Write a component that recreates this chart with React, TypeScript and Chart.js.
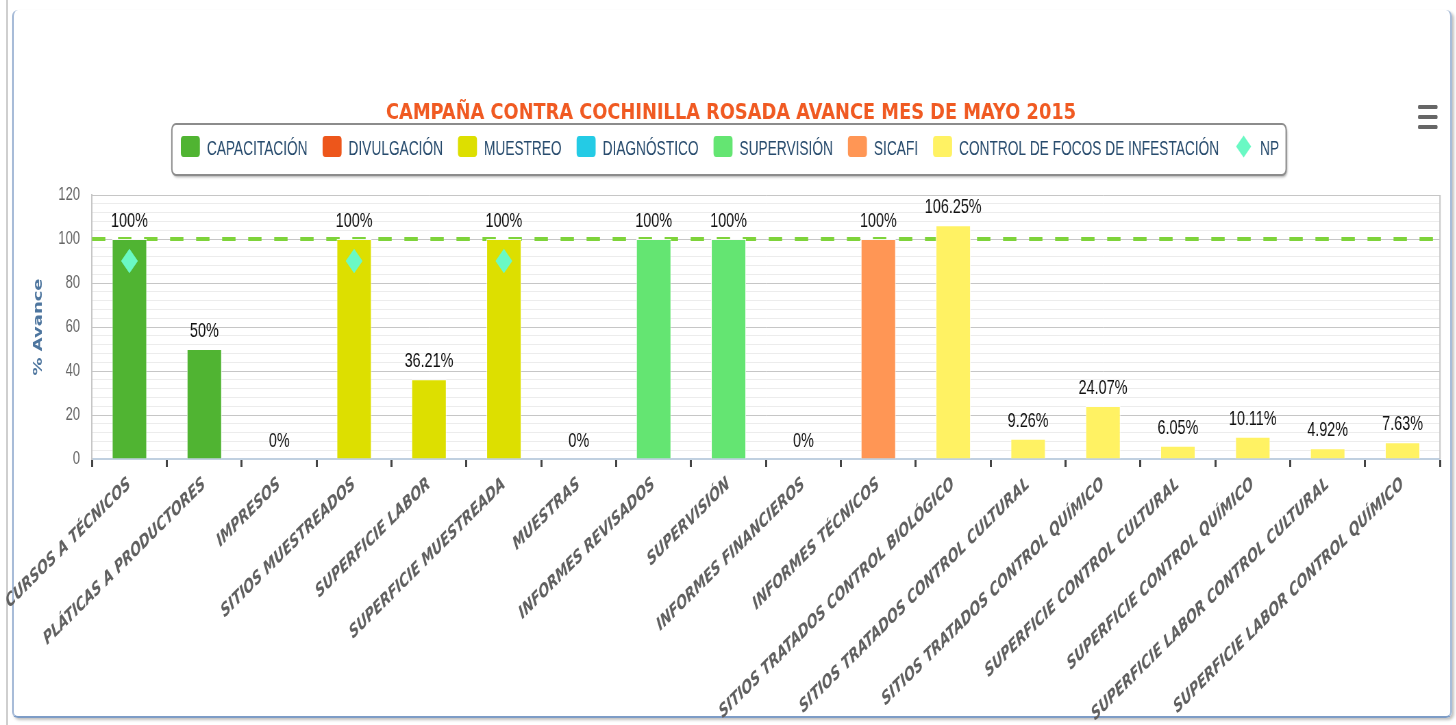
import React, { useEffect, useRef } from 'react';
import { Chart, registerables } from 'chart.js';

Chart.register(...registerables);

// ---- data ----
const chartTitle = 'CAMPAÑA CONTRA COCHINILLA ROSADA AVANCE MES DE MAYO 2015';
const yAxisTitle = '% Avance';

const categories = [
  'CURSOS A TÉCNICOS',
  'PLÁTICAS A PRODUCTORES',
  'IMPRESOS',
  'SITIOS MUESTREADOS',
  'SUPERFICIE LABOR',
  'SUPERFICIE MUESTREADA',
  'MUESTRAS',
  'INFORMES REVISADOS',
  'SUPERVISIÓN',
  'INFORMES FINANCIEROS',
  'INFORMES TÉCNICOS',
  'SITIOS TRATADOS CONTROL BIOLÓGICO',
  'SITIOS TRATADOS CONTROL CULTURAL',
  'SITIOS TRATADOS CONTROL QUÍMICO',
  'SUPERFICIE CONTROL CULTURAL',
  'SUPERFICIE CONTROL QUÍMICO',
  'SUPERFICIE LABOR CONTROL CULTURAL',
  'SUPERFICIE LABOR CONTROL QUÍMICO',
];

const values = [100, 50, 0, 100, 36.21, 100, 0, 100, 100, 0, 100, 106.25, 9.26, 24.07, 6.05, 10.11, 4.92, 7.63];

// which series each category belongs to
const seriesOfCategory = [0, 0, 1, 2, 2, 2, 3, 4, 4, 5, 5, 6, 6, 6, 6, 6, 6, 6];

const seriesNames = [
  'CAPACITACIÓN',
  'DIVULGACIÓN',
  'MUESTREO',
  'DIAGNÓSTICO',
  'SUPERVISIÓN',
  'SICAFI',
  'CONTROL DE FOCOS DE INFESTACIÓN',
];
const seriesColors = ['#50B432', '#ED561B', '#DDDF00', '#24CBE5', '#64E572', '#FF9655', '#FFF263'];

const npName = 'NP';
const npColor = '#6AF9C4';
const npValues = [90, null, null, 90, null, 90, null, null, null, null, null, null, null, null, null, null, null, null];

const targetValue = 100;
const yTickLabels = [0, 20, 40, 60, 80, 100, 120];

// ---- layout (picture is squeezed horizontally) ----
const S = 0.685;
const W = 2126;
const H = 725;
const px = (x: number) => x / S;

const decor = {
  id: 'decor',
  beforeDatasetsDraw(chart: any) {
    const { ctx, chartArea: a, scales } = chart;
    const y = scales.y;
    ctx.save();
    ctx.strokeStyle = '#C8C8C8';
    ctx.lineWidth = 2;
    ctx.beginPath();
    ctx.moveTo(a.right, a.top);
    ctx.lineTo(a.right, a.bottom);
    ctx.stroke();
    const yy = y.getPixelForValue(targetValue);
    ctx.strokeStyle = '#7ED33A';
    ctx.lineWidth = 4;
    ctx.setLineDash([19.5, 18.5]);
    ctx.beginPath();
    ctx.moveTo(a.left, yy);
    ctx.lineTo(a.right, yy);
    ctx.stroke();
    ctx.restore();
  },
  afterDatasetsDraw(chart: any) {
    const { ctx, scales } = chart;
    ctx.save();
    ctx.font = '21px "Liberation Sans", Arial, sans-serif';
    ctx.fillStyle = '#111111';
    ctx.textAlign = 'center';
    ctx.textBaseline = 'alphabetic';
    values.forEach((v, i) => {
      const x = scales.x.getPixelForValue(i);
      const y = scales.y.getPixelForValue(v) - 12;
      ctx.fillText(`${v}%`, x, y);
    });
    ctx.restore();
  },
  afterDraw(chart: any) {
    const { ctx } = chart;
    ctx.save();
    // title
    ctx.font = 'bold 22px "DejaVu Sans", sans-serif';
    ctx.fillStyle = '#F05A22';
    ctx.textAlign = 'left';
    ctx.textBaseline = 'alphabetic';
    const tw = ctx.measureText(chartTitle).width;
    const target = px(690);
    ctx.translate(px(731), 118.5);
    ctx.scale(target / tw, 1);
    ctx.fillText(chartTitle, -tw / 2, 0);
    ctx.restore();

    // legend
    ctx.save();
    ctx.font = '20px "Liberation Sans", Arial, sans-serif';
    const items = [
      ...seriesNames.map((n, i) => ({ text: n, color: seriesColors[i], diamond: false })),
      { text: npName, color: npColor, diamond: true },
    ];
    const symW = px(19);
    const symH = 21;
    const gap1 = px(7);
    const gap2 = px(15);
    const widths = items.map((it) => symW + gap1 + ctx.measureText(it.text).width);
    const total = widths.reduce((s, w) => s + w, 0) + gap2 * (items.length - 1);
    let x = px(730) - total / 2;
    const fl = x - px(9);
    const fr = x + total + px(7);
    const ft = 124;
    const fb = 175;
    ctx.save();
    ctx.shadowColor = 'rgba(0,0,0,0.35)';
    ctx.shadowOffsetX = 1.5;
    ctx.shadowOffsetY = 2;
    ctx.shadowBlur = 3;
    ctx.fillStyle = '#ffffff';
    ctx.beginPath();
    ctx.roundRect(fl, ft, fr - fl, fb - ft, 6);
    ctx.fill();
    ctx.restore();
    ctx.strokeStyle = '#8C8C8C';
    ctx.lineWidth = 2;
    ctx.beginPath();
    ctx.roundRect(fl, ft, fr - fl, fb - ft, 6);
    ctx.stroke();
    const cy = 146.5;
    items.forEach((it, i) => {
      ctx.fillStyle = it.color;
      if (it.diamond) {
        const cx = x + symW / 2;
        const r = 11;
        ctx.beginPath();
        ctx.moveTo(cx - r, cy);
        ctx.lineTo(cx, cy - r);
        ctx.lineTo(cx + r, cy);
        ctx.lineTo(cx, cy + r);
        ctx.closePath();
        ctx.fill();
      } else {
        ctx.beginPath();
        ctx.roundRect(x, cy - symH / 2, symW, symH, 4);
        ctx.fill();
      }
      ctx.fillStyle = '#274B6D';
      ctx.textAlign = 'left';
      ctx.textBaseline = 'alphabetic';
      ctx.fillText(it.text, x + symW + gap1, 154.5);
      x += widths[i] + gap2;
    });
    ctx.restore();

    // menu icon
    ctx.save();
    ctx.fillStyle = '#666666';
    [105, 115, 125].forEach((yy) => {
      ctx.beginPath();
      ctx.roundRect(px(1418), yy, px(19.5), 4, 1.5);
      ctx.fill();
    });
    ctx.restore();
  },
};

export default function App() {
  const ref = useRef<HTMLCanvasElement | null>(null);

  useEffect(() => {
    if (!ref.current) return;
    const barSets = seriesNames.map((name, si) => ({
      type: 'bar' as const,
      label: name,
      data: values.map((v, i) => (seriesOfCategory[i] === si ? v : null)),
      backgroundColor: seriesColors[si],
      borderColor: 'rgba(255,255,255,0.9)',
      borderWidth: 1,
      grouped: false,
      barPercentage: 0.467,
      categoryPercentage: 1,
      order: 1,
    }));
    const npSet = {
      type: 'line' as const,
      label: npName,
      data: npValues,
      showLine: false,
      pointStyle: 'rectRot',
      pointRadius: 12.3,
      pointHoverRadius: 12.3,
      pointBackgroundColor: npColor,
      pointBorderWidth: 0,
      backgroundColor: npColor,
      borderColor: npColor,
      order: 0,
    };
    const chart = new Chart(ref.current, {
      type: 'bar',
      data: { labels: categories, datasets: [npSet as any, ...barSets] },
      plugins: [decor],
      options: {
        responsive: false,
        animation: false,
        devicePixelRatio: 1,
        events: [],
        layout: { padding: { top: 195, left: 0, right: W - px(1440), bottom: 0 } },
        plugins: {
          legend: { display: false },
          title: { display: false },
          tooltip: { enabled: false },
        },
        scales: {
          x: {
            type: 'category',
            offset: true,
            grid: {
              offset: true,
              drawOnChartArea: false,
              drawTicks: true,
              tickLength: 8,
              tickWidth: 3,
              tickColor: '#444444',
              color: '#444444',
            },
            border: { display: true, color: '#C0D0E0', width: 2 },
            ticks: {
              autoSkip: false,
              minRotation: 34.4,
              maxRotation: 34.4,
              padding: 6,
              color: '#606060',
              font: { family: '"DejaVu Sans", sans-serif', size: 18.5, style: 'italic', weight: 'bold' },
            },
            afterFit: (s: any) => {
              s.height = H - 459;
              s.paddingLeft = 0;
              s.paddingRight = 0;
            },
          } as any,
          y: {
            min: 0,
            max: 120,
            grid: {
              drawTicks: false,
              color: (c: any) => (c.tick && c.tick.value % 20 === 0 ? '#C6C6C6' : '#ECECEC'),
              lineWidth: 1,
            },
            border: { display: true, color: '#C6C6C6', width: 2 },
            ticks: {
              stepSize: 4,
              autoSkip: false,
              padding: 17.5,
              color: '#666666',
              font: { family: '"Liberation Sans", Arial, sans-serif', size: 19 },
              callback: (v: any) => (yTickLabels.includes(Number(v)) ? String(v) : ''),
            },
            title: {
              display: true,
              text: yAxisTitle,
              color: '#4D759E',
              font: { family: '"DejaVu Sans", sans-serif', size: 18, weight: 'bold' },
              padding: { top: 46, bottom: 0 },
            },
            afterFit: (s: any) => {
              s.width = px(92);
            },
          } as any,
        },
      } as any,
    });
    return () => chart.destroy();
  }, []);

  return (
    <div style={{ position: 'fixed', left: 0, top: 0, width: 1456, height: 725, overflow: 'hidden', background: '#fff' }}>
      <div style={{ position: 'absolute', left: 6, top: 0, width: 2, height: 725, background: '#CFCFCF' }} />
      <div
        style={{
          position: 'absolute',
          left: 12,
          top: 10,
          width: 1436,
          height: 706,
          borderLeft: '2px solid #A8BCD8',
          borderRight: '2px solid #A8BCD8',
          borderBottom: '2px solid #7D9CC6',
          borderRadius: 6,
          boxShadow: '2px 2px 3px rgba(0,0,0,0.25)',
        }}
      />
      <canvas
        ref={ref}
        width={W}
        height={H}
        style={{
          position: 'absolute',
          left: 0,
          top: 0,
          width: `${W}px`,
          height: `${H}px`,
          transform: `scaleX(${S})`,
          transformOrigin: '0 0',
        }}
      />
    </div>
  );
}
